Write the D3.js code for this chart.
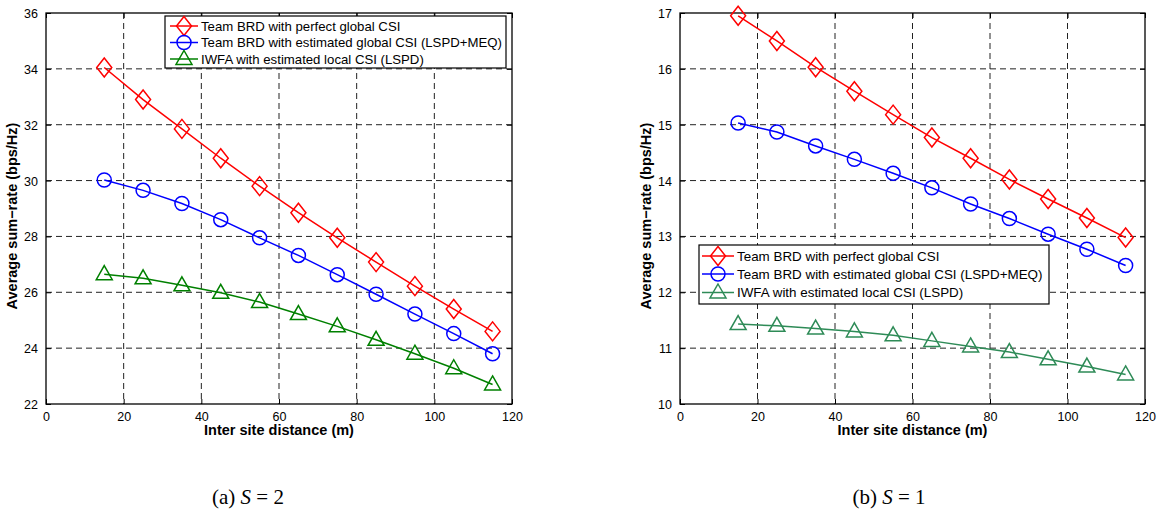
<!DOCTYPE html>
<html>
<head>
<meta charset="utf-8">
<script src="https://cdn.jsdelivr.net/npm/d3@7"></script>
<style>
  body { margin: 0; background: #fff; }
  svg { display: block; font-family: "Liberation Sans", Arial, Helvetica, sans-serif; }
</style>
</head>
<body>
<svg id="chart" width="1159" height="512"></svg>
<script>
// ---- data ----
const distances = [15, 25, 35, 45, 55, 65, 75, 85, 95, 105, 115];
const xTicks = [0, 20, 40, 60, 80, 100, 120];

const seriesNames = [
  "Team BRD with perfect global CSI",
  "Team BRD with estimated global CSI (LSPD+MEQ)",
  "IWFA with estimated local CSI (LSPD)"
];

// (a) S = 2
const aPerfect   = [34.05, 32.9, 31.85, 30.8, 29.8, 28.85, 27.95, 27.08, 26.22, 25.4, 24.6];
const aEstimated = [30.02, 29.65, 29.18, 28.6, 27.95, 27.32, 26.63, 25.93, 25.22, 24.52, 23.8];
const aIWFA      = [26.65, 26.5, 26.25, 25.98, 25.65, 25.22, 24.78, 24.3, 23.8, 23.28, 22.7];
const aYTicks = [22, 24, 26, 28, 30, 32, 34, 36];

// (b) S = 1
const bPerfect   = [16.95, 16.5, 16.03, 15.6, 15.18, 14.77, 14.4, 14.02, 13.67, 13.33, 12.98];
const bEstimated = [15.03, 14.87, 14.62, 14.38, 14.13, 13.87, 13.58, 13.32, 13.04, 12.77, 12.48];
const bIWFA      = [11.43, 11.4, 11.35, 11.3, 11.23, 11.13, 11.03, 10.93, 10.8, 10.67, 10.53];
const bYTicks = [10, 11, 12, 13, 14, 15, 16, 17];

const svg = d3.select("#chart");

function drawPanel(opt) {
  const { left, right, top, bottom, yDomain, yTicks, series, legend, caption, captionX } = opt;
  const g = svg.append("g");
  const x = d3.scaleLinear().domain([0, 120]).range([left, right]);
  const y = d3.scaleLinear().domain(yDomain).range([bottom, top]);

  // grid (dashed)
  const grid = g.append("g");
  grid.selectAll("line.gx").data(xTicks.filter(t => t > 0 && t < 120)).enter()
    .append("line").attr("x1", d => x(d)).attr("x2", d => x(d))
    .attr("y1", top).attr("y2", bottom)
    .attr("stroke", "#222").attr("stroke-width", 1).attr("stroke-dasharray", "6,4");
  grid.selectAll("line.gy").data(yTicks.filter(t => t > yDomain[0] && t < yDomain[1])).enter()
    .append("line").attr("y1", d => y(d)).attr("y2", d => y(d))
    .attr("x1", left).attr("x2", right)
    .attr("stroke", "#222").attr("stroke-width", 1).attr("stroke-dasharray", "6,4");

  // axes with inward ticks
  const tick = 5;
  const fmt = d3.format("d");
  const axB = g.append("g").attr("transform", `translate(0,${bottom})`)
    .call(d3.axisBottom(x).tickValues(xTicks).tickFormat(fmt).tickSizeInner(-tick).tickSizeOuter(0).tickPadding(tick + 4));
  const axT = g.append("g").attr("transform", `translate(0,${top})`)
    .call(d3.axisTop(x).tickValues(xTicks).tickSizeInner(-tick).tickSizeOuter(0).tickFormat(""));
  const axL = g.append("g").attr("transform", `translate(${left},0)`)
    .call(d3.axisLeft(y).tickValues(yTicks).tickFormat(fmt).tickSizeInner(-tick).tickSizeOuter(0).tickPadding(tick + 3));
  const axR = g.append("g").attr("transform", `translate(${right},0)`)
    .call(d3.axisRight(y).tickValues(yTicks).tickSizeInner(-tick).tickSizeOuter(0).tickFormat(""));
  [axB, axT, axL, axR].forEach(a => {
    a.select(".domain").remove();
    a.selectAll("line").attr("stroke", "#000");
    a.selectAll("text").attr("fill", "#000").style("font-size", "12.5px")
      .style("font-family", "'Liberation Sans', Arial, sans-serif");
  });
  axB.selectAll("text").attr("dy", "0.6em");
  axL.selectAll("text").attr("dy", "0.36em");

  // box
  g.append("rect").attr("x", left).attr("y", top).attr("width", right - left).attr("height", bottom - top)
    .attr("fill", "none").attr("stroke", "#000").attr("stroke-width", 1.3);

  // axis titles
  g.append("text").attr("x", (left + right) / 2).attr("y", bottom + 31)
    .attr("text-anchor", "middle").style("font-size", "14.5px").style("font-weight", "bold")
    .text("Inter site distance (m)");
  g.append("text").attr("transform", `translate(${left - 29},216) rotate(-90)`)
    .attr("text-anchor", "middle").style("font-size", "14.5px").style("font-weight", "bold")
    .text("Average sum\u2212rate (bps/Hz)");

  // series
  const line = d3.line().x((d, i) => x(distances[i])).y(d => y(d));
  series.forEach(s => {
    g.append("path").datum(s.values).attr("d", line)
      .attr("fill", "none").attr("stroke", s.color).attr("stroke-width", 1.5);
    g.selectAll(null).data(s.values).enter().append("path")
      .attr("transform", (d, i) => `translate(${x(distances[i])},${y(d)})`)
      .attr("d", markerPath(s.marker))
      .attr("fill", "none").attr("stroke", s.color).attr("stroke-width", 1.5);
  });

  // legend
  const lg = g.append("g");
  lg.append("rect").attr("x", legend.x).attr("y", legend.y).attr("width", legend.w).attr("height", legend.h)
    .attr("fill", "#fff").attr("stroke", "#000").attr("stroke-width", 1.2);
  series.forEach((s, i) => {
    const cy = legend.rows[i];
    lg.append("line").attr("x1", legend.lx1).attr("x2", legend.lx2).attr("y1", cy).attr("y2", cy)
      .attr("stroke", s.color).attr("stroke-width", 1.5);
    lg.append("path").attr("transform", `translate(${(legend.lx1 + legend.lx2) / 2},${cy})`)
      .attr("d", markerPath(s.marker)).attr("fill", "none").attr("stroke", s.color).attr("stroke-width", 1.5);
    lg.append("text").attr("x", legend.tx).attr("y", cy).attr("dy", "0.36em")
      .style("font-size", legend.fs + "px").attr("fill", "#000").text(seriesNames[i]);
  });

  // caption
  const cap = g.append("text").attr("x", captionX).attr("y", 504).attr("text-anchor", "middle")
    .style("font-family", "'Liberation Serif', 'Times New Roman', serif").style("font-size", "21px");
  cap.append("tspan").text(caption[0] + " ");
  cap.append("tspan").style("font-style", "italic").text("S");
  cap.append("tspan").text(" = " + caption[1]);
}

function markerPath(type) {
  if (type === "diamond") return "M0,-9.5L7.5,0L0,9.5L-7.5,0Z";
  if (type === "circle") return "M7,0A7,7 0 1,1 -7,0A7,7 0 1,1 7,0Z";
  return "M0,-8.5L8,5.5L-8,5.5Z";
}

drawPanel({
  left: 46, right: 512, top: 13, bottom: 404,
  yDomain: [22, 36], yTicks: aYTicks,
  series: [
    { values: aPerfect, color: "#ff0000", marker: "diamond" },
    { values: aEstimated, color: "#0000ff", marker: "circle" },
    { values: aIWFA, color: "#008000", marker: "triangle" }
  ],
  legend: { x: 165, y: 16, w: 341, h: 52, rows: [26, 42.5, 59], lx1: 170, lx2: 198, tx: 201, fs: 13.2 },
  caption: ["(a)", "2"], captionX: 248
});

drawPanel({
  left: 680, right: 1145, top: 13, bottom: 404,
  yDomain: [10, 17], yTicks: bYTicks,
  series: [
    { values: bPerfect, color: "#ff0000", marker: "diamond" },
    { values: bEstimated, color: "#0000ff", marker: "circle" },
    { values: bIWFA, color: "#2e8b57", marker: "triangle" }
  ],
  legend: { x: 699, y: 245, w: 350, h: 59, rows: [256, 274, 292.5], lx1: 702, lx2: 734, tx: 737, fs: 13.4 },
  caption: ["(b)", "1"], captionX: 889
});
</script>
</body>
</html>
